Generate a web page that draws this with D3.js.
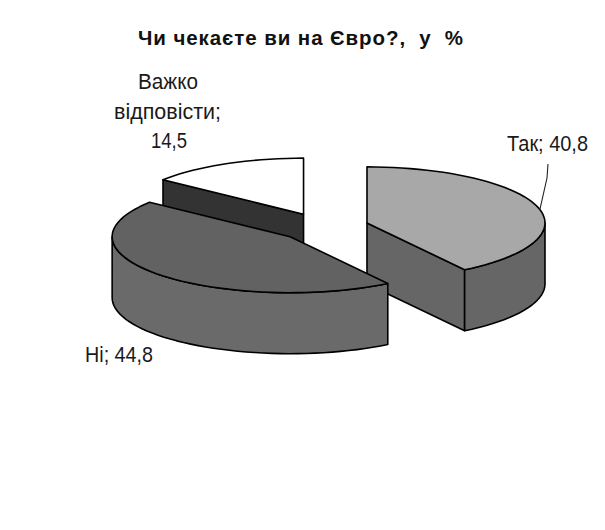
<!DOCTYPE html>
<html>
<head>
<meta charset="utf-8">
<script src="https://cdn.jsdelivr.net/npm/d3@7"></script>
<style>
  html, body { margin: 0; padding: 0; background: #fff; }
  svg { display: block; }
  .lbl { font-family: "Liberation Sans", Arial, sans-serif; font-size: 21.5px; fill: #1a1a1a; }
  .title { font-family: "Liberation Sans", Arial, sans-serif; font-size: 20.5px; font-weight: bold; fill: #111; white-space: pre; }
</style>
</head>
<body>
<svg id="chart" width="605" height="530"></svg>
<script>
const categories = ["Так", "Ні", "Важко", "відповісти;"];
const values = [40.8, 44.8, 14.5];
const topColors = ["#a8a8a8", "#626262", "#ffffff"];
const wallColors = ["#666666", "#6a6a6a", "#333333"];
const title = "Чи чекаєте ви на Євро?,  у  %";

const svg = d3.select("#chart");
const cx = 323.5, cy = 227, rx = 178, ry = 56, depth = 61, explode = 0.255;

const x = d3.scaleLinear().domain([-1, 1]).range([-rx, rx]);
const y = d3.scaleLinear().domain([-1, 1]).range([-ry, ry]);
const line = d3.line();

const arcs = d3.pie().sort(null).value(d => d)(values).map((a, i) => {
    const mid = (a.startAngle + a.endAngle) / 2;
    return {
        ...a, i,
        ox: cx + x(Math.sin(mid) * explode),
        oy: cy + y(-Math.cos(mid) * explode)
    };
});

const rim = (a, t, dz = 0) => [a.ox + x(Math.sin(t)), a.oy + y(-Math.cos(t)) + dz];

function rimPoints(a, t0, t1, dz = 0) {
    const n = Math.max(2, Math.ceil((t1 - t0) / 0.05));
    return d3.range(n + 1).map(k => rim(a, t0 + (t1 - t0) * k / n, dz));
}

function drawSlice(a) {
    const g = svg.append("g").attr("stroke", "#000").attr("stroke-width", 1.6).attr("stroke-linejoin", "round");
    const wall = wallColors[a.i];
    const centre = [a.ox, a.oy];

    // flat wall along the last radius, only when it faces the viewer
    const faceEnd = Math.sin(a.endAngle) > 0 && Math.cos(a.endAngle) < 0;
    if (faceEnd) {
        const e = rim(a, a.endAngle);
        g.append("path").attr("fill", wall)
            .attr("d", line([centre, e, [e[0], e[1] + depth], [a.ox, a.oy + depth]]) + "Z");
    }
    const faceStart = Math.sin(a.startAngle) < 0 && Math.cos(a.startAngle) > 0;
    if (faceStart) {
        const e = rim(a, a.startAngle);
        g.append("path").attr("fill", wall)
            .attr("d", line([centre, e, [e[0], e[1] + depth], [a.ox, a.oy + depth]]) + "Z");
    }

    // curved outer wall, front half of the ellipse only
    const t0 = Math.max(a.startAngle, Math.PI / 2);
    const t1 = Math.min(a.endAngle, Math.PI * 1.5);
    if (t1 > t0) {
        const pts = rimPoints(a, t0, t1).concat(rimPoints(a, t0, t1, depth).reverse());
        g.append("path").attr("fill", wall).attr("d", line(pts) + "Z");
    }

    // top face
    const top = [centre].concat(rimPoints(a, a.startAngle, a.endAngle));
    g.append("path").attr("fill", topColors[a.i]).attr("d", line(top) + "Z");
}

// back slice first, then right, then the big front one
[arcs[2], arcs[0], arcs[1]].forEach(drawSlice);

// title
svg.append("text").attr("class", "title")
    .attr("x", 138).attr("y", 45)
    .attr("textLength", 325).attr("lengthAdjust", "spacing")
    .text(title);

const fmt = v => String(v).replace(".", ",");

// labels are squeezed to the narrow face of the original
function label(s, px, py, len) {
    svg.append("text").attr("class", "lbl").attr("x", px).attr("y", py)
        .attr("textLength", len).attr("lengthAdjust", "spacingAndGlyphs").text(s);
}
label(categories[0] + "; " + fmt(values[0]), 507, 151, 81);
label(categories[1] + "; " + fmt(values[1]), 85, 362, 68);
label(categories[2], 138, 89, 60);
label(categories[3], 114, 119, 107);
label(fmt(values[2]), 151, 148, 36);

// leader for the first label
const tip = rim(arcs[0], 1.33);
svg.append("path").attr("fill", "none").attr("stroke", "#222").attr("stroke-width", 1.1)
    .attr("d", line([[548, 164], [547, 178], tip]));
</script>
</body>
</html>
